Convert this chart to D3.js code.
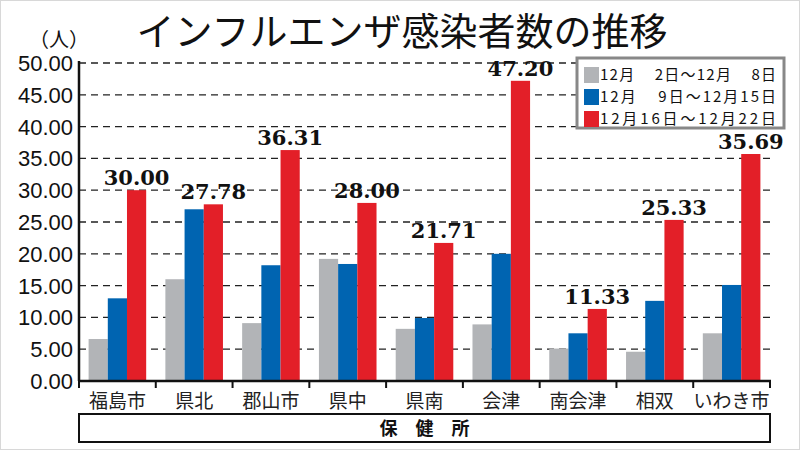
<!DOCTYPE html>
<html><head><meta charset="utf-8">
<script src="https://cdn.jsdelivr.net/npm/d3@7"></script>
<style>body{margin:0;background:#fff}svg{display:block}</style>
</head><body>
<svg id="c" width="800" height="450"></svg>
<script>
const categories = ["福島市","県北","郡山市","県中","県南","会津","南会津","相双","いわき市"];
const seriesNames = ["12月\u2007\u20072日～12月\u2007\u20078日","12月\u2007\u20079日～12月15日","12月16日～12月22日"];
const week1 = [6.6,16.0,9.1,19.2,8.2,8.9,5.1,4.6,7.5];
const week2 = [13.0,27.0,18.2,18.4,9.9,20.0,7.5,12.6,15.1];
const week3 = [30.00,27.78,36.31,28.00,21.71,47.20,11.33,25.33,35.69];
const yTicks = [0,5,10,15,20,25,30,35,40,45,50];
const colors = ["#b2b4b7","#0064b1","#e31f28"];
const title = "インフルエンザ感染者数の推移";
const unit = "（人）";
const xTitle = "保\u3000健\u3000所";

const svg = d3.select("#c");
const jp = "'Noto Sans CJK JP','Noto Sans',sans-serif";
const L=79,R=770,T=63,B=381;
svg.append("rect").attr("x",0.5).attr("y",0.5).attr("width",799).attr("height",449).attr("fill","#fff").attr("stroke","#d8d8d8");

const x = d3.scaleBand().domain(categories).range([L,R]).paddingInner(0.25).paddingOuter(0.125);
const x1 = d3.scaleBand().domain([0,1,2]).range([0,x.bandwidth()]);
const y = d3.scaleLinear().domain([0,50]).range([B,T]);

// grid
svg.append("g").selectAll("line").data(yTicks.filter(d=>d>0)).join("line")
  .attr("x1",L).attr("x2",773).attr("y1",d=>y(d)).attr("y2",d=>y(d))
  .attr("stroke","#222").attr("stroke-width",1.3).attr("stroke-dasharray","7,5");

// y tick labels
svg.append("g").selectAll("text").data(yTicks).join("text")
  .attr("x",73).attr("y",d=>y(d)).attr("dy","0.36em").attr("text-anchor","end")
  .attr("font-family","Arial,'Liberation Sans',sans-serif").attr("font-size",22).attr("fill","#111")
  .text(d=>d.toFixed(2));

svg.append("text").attr("x",59).attr("y",40).attr("dy","0.36em").attr("text-anchor","middle")
  .attr("font-family",jp).attr("font-size",20).attr("fill","#111").text(unit);

// bars
const data = categories.map((c,i)=>({c,v:[week1[i],week2[i],week3[i]]}));
const g = svg.append("g").selectAll("g").data(data).join("g").attr("transform",d=>`translate(${x(d.c)},0)`);
g.selectAll("rect").data(d=>d.v.map((v,k)=>({v,k}))).join("rect")
  .attr("x",d=>x1(d.k)).attr("width",x1.bandwidth()).attr("y",d=>y(d.v)).attr("height",d=>B-y(d.v))
  .attr("fill",d=>colors[d.k]);

// value labels
svg.append("g").selectAll("text").data(data).join("text")
  .attr("x",d=>x(d.c)+x1(2)+x1.bandwidth()/2).attr("y",d=>y(d.v[2])-5).attr("text-anchor","middle")
  .attr("font-family","'DejaVu Serif','Liberation Serif',serif").attr("font-weight","bold").attr("font-size",21)
  .attr("fill","#111").text(d=>d.v[2].toFixed(2));

// axes
const xa = svg.append("g").attr("transform",`translate(0,${B})`)
  .call(d3.axisBottom(x).tickSize(0).tickFormat(""));
xa.select(".domain").remove();
svg.append("line").attr("x1",L).attr("x2",R+1).attr("y1",B).attr("y2",B).attr("stroke","#111").attr("stroke-width",2.5);
svg.append("line").attr("x1",L).attr("x2",L).attr("y1",T-2).attr("y2",B).attr("stroke","#111").attr("stroke-width",2.5);
const step = x.step();
const bounds = categories.map((c,i)=>x(c)-x.paddingInner()*step/2).concat([R]);
svg.append("g").selectAll("line").data(bounds).join("line")
  .attr("x1",d=>d).attr("x2",d=>d).attr("y1",B).attr("y2",B+7).attr("stroke","#111").attr("stroke-width",2);
svg.append("g").selectAll("text").data(categories).join("text")
  .attr("x",d=>x(d)+x.bandwidth()/2).attr("y",401).attr("dy","0.35em").attr("text-anchor","middle")
  .attr("font-family",jp).attr("font-size",19).attr("fill","#222").text(d=>d);

// x title box
svg.append("rect").attr("x",L).attr("y",414).attr("width",R-L).attr("height",28)
  .attr("fill","#fff").attr("stroke","#111").attr("stroke-width",2);
svg.append("text").attr("x",(L+R)/2).attr("y",429).attr("dy","0.36em").attr("text-anchor","middle")
  .attr("font-family",jp).attr("font-weight","bold").attr("font-size",18).attr("fill","#111").text(xTitle);

// title
svg.append("text").attr("x",402).attr("y",31).attr("dy","0.36em").attr("text-anchor","middle")
  .attr("font-family",jp).attr("font-size",38).attr("fill","#111").text(title);

// legend
const lg = svg.append("g");
lg.append("rect").attr("x",577).attr("y",58).attr("width",207).attr("height",70)
  .attr("fill","#fff").attr("stroke","#888").attr("stroke-width",3);
seriesNames.forEach((s,i)=>{
  const yy = 75+i*22;
  lg.append("rect").attr("x",584).attr("y",yy-8).attr("width",15).attr("height",16).attr("fill",colors[i]);
  lg.append("text").attr("x",600).attr("y",yy).attr("dy","0.36em")
    .attr("font-family",jp).attr("font-size",15).attr("fill","#111")
    .attr("textLength",176).attr("lengthAdjust","spacing").text(s);
});
</script>
</body></html>
